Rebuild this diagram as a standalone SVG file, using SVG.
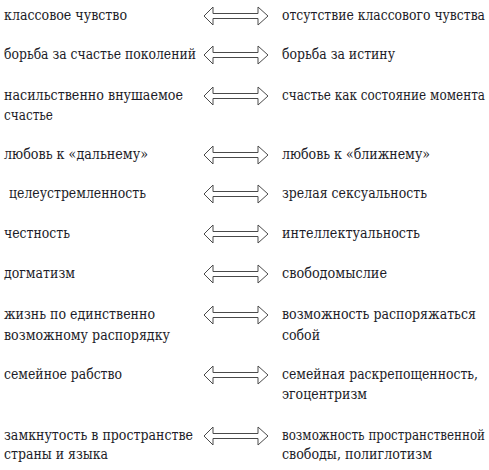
<svg xmlns="http://www.w3.org/2000/svg" xmlns:xlink="http://www.w3.org/1999/xlink" width="489" height="470" viewBox="0 0 489 470">
<style>
.arr{fill:#fff;stroke:#4a4a4a;stroke-width:1}
</style>
<defs>
<path id="dbl" class="arr" d="M204,0 L213,-9 L213,-2.5 L258,-2.5 L258,-9 L268,0 L258,9 L258,2.5 L213,2.5 L213,9 Z"/>
</defs>
<rect width="489" height="470" fill="#fff"/>
<g id="connectors">
<use xlink:href="#dbl" href="#dbl" y="16"/>
<use xlink:href="#dbl" href="#dbl" y="55"/>
<use xlink:href="#dbl" href="#dbl" y="96"/>
<use xlink:href="#dbl" href="#dbl" y="155"/>
<use xlink:href="#dbl" href="#dbl" y="194"/>
<use xlink:href="#dbl" href="#dbl" y="234"/>
<use xlink:href="#dbl" href="#dbl" y="274"/>
<use xlink:href="#dbl" href="#dbl" y="315"/>
<use xlink:href="#dbl" href="#dbl" y="375"/>
<use xlink:href="#dbl" href="#dbl" y="436"/>
</g>
<g id="left" font-family="'DejaVu Serif', serif" font-size="15" fill="#1c1c28">
<g id="l1"><text x="4" y="20" textLength="123" lengthAdjust="spacingAndGlyphs">классовое чувство</text></g>
<g id="l2"><text x="4" y="59" textLength="192" lengthAdjust="spacingAndGlyphs">борьба за счастье поколений</text></g>
<g id="l3"><text x="4" y="100" textLength="179" lengthAdjust="spacingAndGlyphs">насильственно внушаемое</text><text x="4" y="120" textLength="49" lengthAdjust="spacingAndGlyphs">счастье</text></g>
<g id="l4"><text x="4" y="159" textLength="144" lengthAdjust="spacingAndGlyphs">любовь к «дальнему»</text></g>
<g id="l5"><text x="9" y="198" textLength="137" lengthAdjust="spacingAndGlyphs">целеустремленность</text></g>
<g id="l6"><text x="4" y="238" textLength="66" lengthAdjust="spacingAndGlyphs">честность</text></g>
<g id="l7"><text x="4" y="278" textLength="71" lengthAdjust="spacingAndGlyphs">догматизм</text></g>
<g id="l8"><text x="4" y="319" textLength="151" lengthAdjust="spacingAndGlyphs">жизнь по единственно</text><text x="4" y="340" textLength="166" lengthAdjust="spacingAndGlyphs">возможному распорядку</text></g>
<g id="l9"><text x="4" y="379" textLength="118" lengthAdjust="spacingAndGlyphs">семейное рабство</text></g>
<g id="l10"><text x="4" y="440" textLength="189" lengthAdjust="spacingAndGlyphs">замкнутость в пространстве</text><text x="4" y="459" textLength="104" lengthAdjust="spacingAndGlyphs">страны и языка</text></g>
</g>
<g id="right" font-family="'DejaVu Serif', serif" font-size="15" fill="#1c1c28">
<g id="r1"><text x="282" y="20" textLength="203" lengthAdjust="spacingAndGlyphs">отсутствие классового чувства</text></g>
<g id="r2"><text x="282" y="59" textLength="113" lengthAdjust="spacingAndGlyphs">борьба за истину</text></g>
<g id="r3"><text x="282" y="100" textLength="203" lengthAdjust="spacingAndGlyphs">счастье как состояние момента</text></g>
<g id="r4"><text x="282" y="159" textLength="148" lengthAdjust="spacingAndGlyphs">любовь к «ближнему»</text></g>
<g id="r5"><text x="282" y="198" textLength="145" lengthAdjust="spacingAndGlyphs">зрелая сексуальность</text></g>
<g id="r6"><text x="282" y="238" textLength="138" lengthAdjust="spacingAndGlyphs">интеллектуальность</text></g>
<g id="r7"><text x="282" y="278" textLength="105" lengthAdjust="spacingAndGlyphs">свободомыслие</text></g>
<g id="r8"><text x="282" y="319" textLength="194" lengthAdjust="spacingAndGlyphs">возможность распоряжаться</text><text x="282" y="340" textLength="38" lengthAdjust="spacingAndGlyphs">собой</text></g>
<g id="r9"><text x="282" y="379" textLength="196" lengthAdjust="spacingAndGlyphs">семейная раскрепощенность,</text><text x="282" y="399" textLength="85" lengthAdjust="spacingAndGlyphs">эгоцентризм</text></g>
<g id="r10"><text x="282" y="440" textLength="203" lengthAdjust="spacingAndGlyphs">возможность пространственной</text><text x="282" y="459" textLength="150" lengthAdjust="spacingAndGlyphs">свободы, полиглотизм</text></g>
</g>
</svg>
